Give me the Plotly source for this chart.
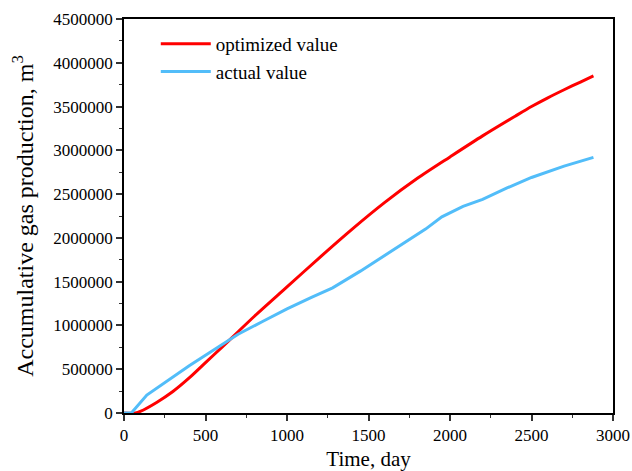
import plotly.graph_objects as go

# Cumulative gas production over time (days)
opt_days = [0, 70, 100, 200, 300, 400, 500, 600, 700, 800, 1000, 1200, 1400,
            1600, 1800, 2000, 2200, 2400, 2500, 2600, 2700, 2800, 2880]
opt_vals = [0, 0, 18000, 120000, 245000, 400000, 575000, 750000, 928000, 1105000,
            1440000, 1775000, 2100000, 2405000, 2680000, 2925000, 3165000,
            3390000, 3500000, 3600000, 3692000, 3780000, 3850000]

act_days = [0, 45, 140, 250, 400, 550, 700, 850, 1000, 1150, 1280, 1450, 1550, 1700,
            1850, 1950, 2080, 2200, 2350, 2500, 2700, 2880]
act_vals = [0, 0, 205000, 350000, 540000, 720000, 900000, 1045000, 1190000, 1320000,
            1430000, 1620000, 1740000, 1915000, 2100000, 2240000, 2360000, 2440000,
            2570000, 2690000, 2820000, 2920000]

font_family = "Liberation Serif, Times New Roman, serif"

fig = go.Figure()
fig.add_trace(go.Scatter(x=opt_days, y=opt_vals, mode="lines", name="optimized value",
                         line=dict(color="#FF0000", width=3, shape="spline", smoothing=0.8)))
fig.add_trace(go.Scatter(x=act_days, y=act_vals, mode="lines", name="actual value",
                         line=dict(color="#52BDF9", width=3)))

axis_common = dict(
    showline=True, linecolor="black", linewidth=1.5, mirror=True,
    ticks="outside", ticklen=6, tickwidth=1.5, tickcolor="#333",
    showgrid=False, zeroline=False, automargin=False,
    tickfont=dict(family=font_family, size=17, color="black"),
)

fig.update_xaxes(range=[0, 3000], dtick=500,
                 minor=dict(ticks="outside", ticklen=3, tickwidth=1.2, tickcolor="#333", dtick=250),
                 title=dict(text="Time, day", font=dict(family=font_family, size=21, color="black"),
                            standoff=7),
                 **axis_common)
fig.update_yaxes(range=[0, 4500000], dtick=500000, tickformat="d",
                 minor=dict(ticks="outside", ticklen=3, tickwidth=1.2, tickcolor="#333", dtick=250000),
                 title=dict(text="Accumulative gas production, m<sup>3</sup>",
                            font=dict(family=font_family, size=24, color="black"), standoff=13),
                 **axis_common)

fig.update_layout(
    width=632, height=471,
    margin=dict(l=124, r=19, t=19, b=58),
    paper_bgcolor="white", plot_bgcolor="white",
    legend=dict(x=0.065, y=0.985, xanchor="left", yanchor="top",
                bgcolor="rgba(0,0,0,0)", font=dict(family=font_family, size=19, color="black"),
                itemwidth=50, tracegroupgap=0),
    showlegend=True,
)

fig.write_html("out.html")
